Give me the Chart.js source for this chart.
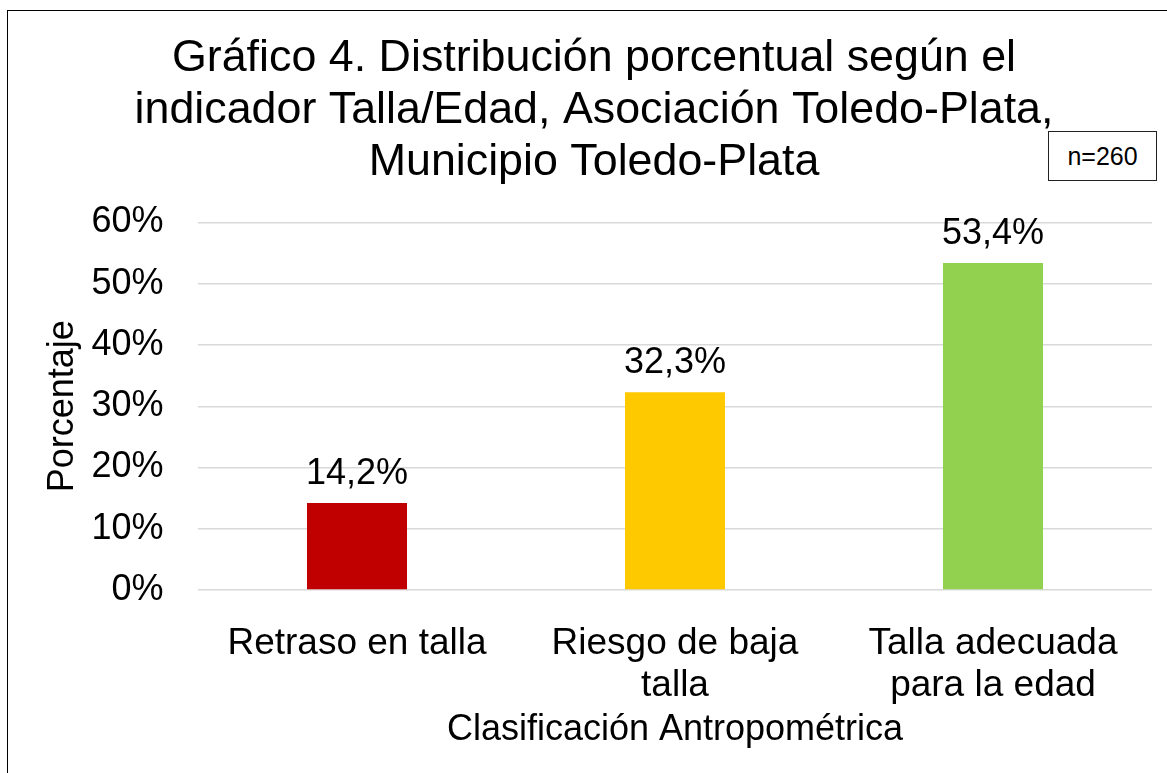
<!DOCTYPE html>
<html>
<head>
<meta charset="utf-8">
<script src="https://cdn.jsdelivr.net/npm/chart.js@4/dist/chart.umd.min.js"></script>
<style>
  html, body { margin: 0; padding: 0; background: #fff; overflow: hidden; }
  #wrap { position: relative; width: 1167px; height: 773px; }
  #frame { position: absolute; left: 7px; top: 10px; width: 1300px; height: 900px;
           border-left: 1.5px solid #000; border-top: 1.5px solid #000; box-sizing: border-box; }
  canvas { position: absolute; left: 0; top: 0; }
  #nbox { position: absolute; left: 1048px; top: 131px; width: 109px; height: 50px;
          border: 1.5px solid #222; box-sizing: border-box; font-family: "Liberation Sans", Arial, sans-serif;
          font-size: 25px; color: #000; display: flex; align-items: center; justify-content: center; background: #fff; }
</style>
</head>
<body>
<div id="wrap">
  <div id="frame"></div>
  <canvas id="c" width="1167" height="773"></canvas>
  <div id="nbox">n=260</div>
</div>
<script>
const categories = [["Retraso en talla"], ["Riesgo de baja", "talla"], ["Talla adecuada", "para la edad"]];
const values = [14.2, 32.3, 53.4];
const barColors = ["#C00000", "#FFC900", "#92D050"];
const yTicks = [0, 10, 20, 30, 40, 50, 60];
const titleLines = ["Gráfico 4. Distribución porcentual según el", "indicador Talla/Edad, Asociación Toledo-Plata,", "Municipio Toledo-Plata"];
const xTitle = "Clasificación Antropométrica";
const yTitle = "Porcentaje";

const FONT = '"Liberation Sans", Arial, sans-serif';

const dataLabels = {
  id: 'dataLabels',
  afterDatasetsDraw(chart) {
    const ctx = chart.ctx;
    const meta = chart.getDatasetMeta(0);
    ctx.save();
    ctx.font = '36px ' + FONT;
    ctx.fillStyle = '#000';
    ctx.textAlign = 'center';
    ctx.textBaseline = 'alphabetic';
    meta.data.forEach((bar, i) => {
      const txt = values[i].toFixed(1).replace('.', ',') + '%';
      ctx.fillText(txt, bar.x, bar.y - 19);
    });
    ctx.restore();
  }
};

new Chart(document.getElementById('c'), {
  type: 'bar',
  data: {
    labels: categories,
    datasets: [{
      data: values,
      backgroundColor: barColors,
      borderWidth: 0,
      categoryPercentage: 1,
      barPercentage: 0.3145
    }]
  },
  options: {
    responsive: false,
    animation: false,
    devicePixelRatio: 1,
    layout: { padding: { left: 36, right: 15, top: 0, bottom: 0 } },
    plugins: {
      legend: { display: false },
      tooltip: { enabled: false },
      title: {
        display: true,
        text: titleLines,
        color: '#000',
        font: { family: FONT, size: 44.8, weight: 'normal', lineHeight: 52 / 44.8 },
        padding: { top: 33, bottom: 33.5 }
      }
    },
    scales: {
      x: {
        grid: { display: false },
        border: { display: false },
        ticks: {
          color: '#000',
          font: { family: FONT, size: 37, lineHeight: 42 / 37 },
          padding: 25,
          maxRotation: 0,
          autoSkip: false
        },
        title: {
          display: true,
          text: xTitle,
          color: '#000',
          font: { family: FONT, size: 36, lineHeight: 1.2 },
          padding: { top: 21, bottom: 21 }
        },
        afterFit(scale) { scale.height = 183; }
      },
      y: {
        min: 0,
        max: 60,
        afterBuildTicks(scale) { scale.ticks = yTicks.map(v => ({ value: v })); },
        grid: { color: '#d9d9d9', lineWidth: 1.5, drawTicks: false },
        border: { display: false },
        ticks: {
          color: '#000',
          font: { family: FONT, size: 36 },
          padding: 34.5,
          callback: v => v + '%'
        },
        title: {
          display: true,
          text: yTitle,
          color: '#000',
          font: { family: FONT, size: 36, lineHeight: 1.2 },
          padding: { top: 5, bottom: 0 }
        },
        afterFit(scale) { scale.width = 162; }
      }
    }
  },
  plugins: [dataLabels]
});
</script>
</body>
</html>
